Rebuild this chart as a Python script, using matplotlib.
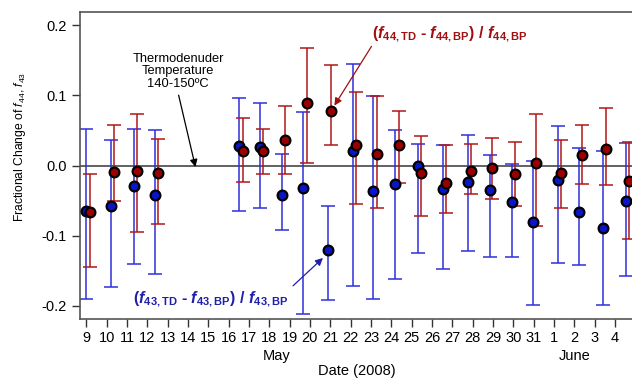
import matplotlib
matplotlib.use("Agg")
import matplotlib.pyplot as plt
import numpy as np

plt.rcParams['font.family'] = ['Liberation Sans', 'DejaVu Sans']
plt.rcParams['mathtext.fontset'] = 'custom'
plt.rcParams['mathtext.rm'] = 'Liberation Sans'
plt.rcParams['mathtext.it'] = 'Liberation Sans:italic'
plt.rcParams['mathtext.bf'] = 'Liberation Sans:bold'
plt.rcParams['mathtext.bfit'] = 'Liberation Sans:italic:bold'

# ---- data (day of May 2008; 32 = June 1) ----
t43 = [8.99, 10.21, 11.36, 12.38, 16.53, 17.54, 18.61, 19.67, 20.87, 22.10, 23.12, 24.18,
       25.33, 26.53, 27.78, 28.84, 29.92, 30.99, 32.19, 33.22, 34.43, 35.55]
v43 = [-0.065, -0.058, -0.029, -0.042, 0.028, 0.026, -0.042, -0.032, -0.121, 0.021, -0.037, -0.027,
       -0.001, -0.033, -0.023, -0.035, -0.052, -0.081, -0.020, -0.066, -0.089, -0.050]
lo43 = [-0.190, -0.173, -0.140, -0.155, -0.065, -0.061, -0.092, -0.212, -0.191, -0.171, -0.190, -0.161,
        -0.125, -0.148, -0.122, -0.130, -0.131, -0.198, -0.139, -0.142, -0.198, -0.157]
hi43 = [0.052, 0.036, 0.052, 0.050, 0.096, 0.089, 0.016, 0.076, -0.058, 0.144, 0.099, 0.050,
        0.030, 0.029, 0.044, 0.015, 0.002, 0.007, 0.056, 0.025, 0.020, 0.032]

t44 = [9.18, 10.38, 11.51, 12.53, 16.69, 17.69, 18.77, 19.84, 21.04, 22.26, 23.29, 24.37,
       25.46, 26.69, 27.92, 28.97, 30.10, 31.12, 32.35, 33.37, 34.54, 35.70]
v44 = [-0.066, -0.009, -0.008, -0.011, 0.021, 0.020, 0.036, 0.089, 0.078, 0.029, 0.016, 0.029,
       -0.010, -0.025, -0.008, -0.003, -0.012, 0.003, -0.010, 0.015, 0.024, -0.022]
lo44 = [-0.144, -0.050, -0.094, -0.084, -0.023, -0.012, -0.012, 0.004, 0.029, -0.055, -0.061, -0.025,
        -0.072, -0.068, -0.040, -0.047, -0.057, -0.086, -0.060, -0.026, -0.028, -0.104]
hi44 = [-0.012, 0.057, 0.074, 0.038, 0.068, 0.052, 0.085, 0.167, 0.143, 0.104, 0.099, 0.077,
        0.042, 0.029, 0.031, 0.039, 0.034, 0.074, 0.037, 0.057, 0.082, 0.033]

tick_days = list(range(9, 36))
tick_labels = [str(d) for d in range(9, 32)] + ['1', '2', '3', '4']

blue_fill = '#0a14c8'
blue_bar = '#2f2fdc'
red_fill = '#9a0000'
red_bar = '#b01818'

fig = plt.figure(figsize=(6.32, 3.78), dpi=100)
ax = fig.add_axes([80/632, 1-319/378, 560/632, 307/378])

v43a = np.array(v43); v44a = np.array(v44)
ax.axhline(0, color='#555555', lw=1.3, zorder=1)

ax.errorbar(t43, v43a, yerr=[v43a-np.array(lo43), np.array(hi43)-v43a], fmt='none',
            ecolor=blue_bar, elinewidth=1.1, capsize=5, capthick=1.1, zorder=2)
ax.errorbar(t44, v44a, yerr=[v44a-np.array(lo44), np.array(hi44)-v44a], fmt='none',
            ecolor=red_bar, elinewidth=1.1, capsize=5, capthick=1.1, zorder=3)
ax.plot(t43, v43a, 'o', ms=7, mfc=blue_fill, mec='black', mew=1.6, zorder=4, ls='none')
ax.plot(t44, v44a, 'o', ms=7, mfc=red_fill, mec='black', mew=1.6, zorder=5, ls='none')

ax.set_xlim(8.69, 36.235)
ax.set_ylim(-0.2186, 0.2186)
ax.set_yticks([-0.2, -0.1, 0.0, 0.1, 0.2])
ax.set_yticklabels(['-0.2', '-0.1', '0.0', '0.1', '0.2'])
ax.set_xticks(tick_days)
ax.set_xticklabels(tick_labels)
ax.tick_params(axis='both', labelsize=10.5, color='#333333', width=1, length=6, direction='out')
ax.tick_params(axis='x', pad=3)
for s in ['top', 'left', 'bottom']:
    ax.spines[s].set_color('#555555')
    ax.spines[s].set_linewidth(1.2)
ax.spines['right'].set_visible(False)

ax.set_ylabel(r'Fractional Change of $f_{44}$, $f_{43}$', fontsize=8.7)
ax.yaxis.set_label_coords((28-80)/560, (319-147)/307)

fig.text(277/632, 1-356/378, 'May', ha='center', va='center', fontsize=10.5)
fig.text(575/632, 1-356/378, 'June', ha='center', va='center', fontsize=10.5)
fig.text(357/632, 1-371/378, 'Date (2008)', ha='center', va='center', fontsize=10.5)

# annotations
ax.text(13.51, 0.134, 'Thermodenuder\nTemperature\n140-150ºC', ha='center', va='center',
        fontsize=9.3, linespacing=1.05)
ax.annotate('', xy=(14.40, -0.006), xytext=(13.51, 0.104),
            arrowprops=dict(arrowstyle='-|>', color='black', lw=0.9, mutation_scale=11))

HY = '\u2010'
lab44 = (r'$\mathbf{(}\mathbfit{f}_{\mathbf{44,TD}}\mathbf{\ ' + HY +
         r'\ }\mathbfit{f}_{\mathbf{44,BP}}\mathbf{)\ /\ }\mathbfit{f}_{\mathbf{44,BP}}$')
lab43 = (r'$\mathbf{(}\mathbfit{f}_{\mathbf{43,TD}}\mathbf{\ ' + HY +
         r'\ }\mathbfit{f}_{\mathbf{43,BP}}\mathbf{)\ /\ }\mathbfit{f}_{\mathbf{43,BP}}$')

ax.text(23.05, 0.187, lab44, color='#a01010', fontsize=11.5, ha='left', va='center')
ax.annotate('', xy=(21.13, 0.082), xytext=(23.10, 0.173),
            arrowprops=dict(arrowstyle='-|>', color='#a01010', lw=0.9, mutation_scale=11))

ax.text(11.29, -0.191, lab43, color='#1f1fa8', fontsize=11.5, ha='left', va='center')
ax.annotate('', xy=(20.74, -0.129), xytext=(19.07, -0.174),
            arrowprops=dict(arrowstyle='-|>', color='#1f1fa8', lw=0.9, mutation_scale=11))

fig.savefig('out.png', dpi=100)
